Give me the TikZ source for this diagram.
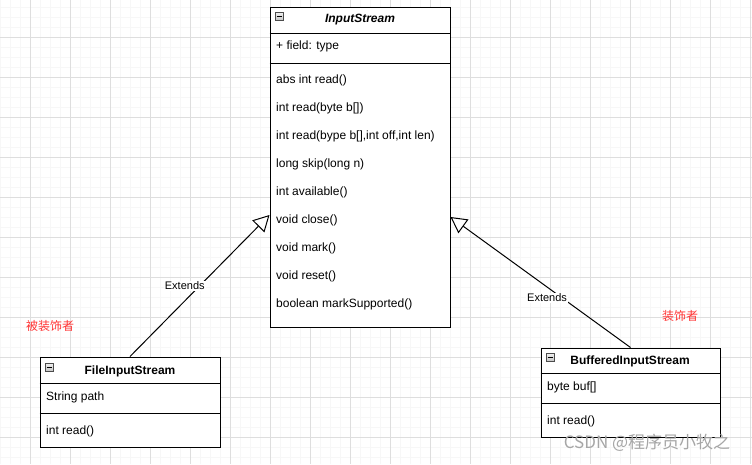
\documentclass[tikz,border=0pt]{standalone}
\usepackage{fontspec}
\setmainfont{Liberation Sans}
\newfontfamily\cjk{Noto Sans CJK SC}
\usetikzlibrary{arrows.meta}
\definecolor{redtxt}{HTML}{FF3333}
\definecolor{gridminor}{HTML}{F7F7F7}
\definecolor{gridmajor}{HTML}{DEDEDE}

\begin{document}
\begin{tikzpicture}[x=1pt, y=-1pt,
  cls/.style={draw, line width=1pt, inner sep=0pt},
  ttl/.style={inner sep=0pt, font=\fontsize{12}{14}\selectfont\bfseries},
  item/.style={anchor=west, inner sep=0pt, font=\fontsize{12}{14}\selectfont},
  minusbox/.style={draw=gray!60!black, top color=gray!10, bottom color=gray!45,
    minimum size=8pt, inner sep=0pt,
    path picture={\draw[black, line width=1pt] ([xshift=-2.5pt]path picture bounding box.center)
      -- ([xshift=2.5pt]path picture bounding box.center);}},
  ext/.style={line width=1pt, -{Triangle[length=16pt, width=17pt, fill=white, line width=1pt]}},
  lbl/.style={fill=white, inner sep=1pt, font=\fontsize{11}{13}\selectfont},
  note/.style={inner sep=0pt, text=redtxt, font=\cjk\fontsize{12}{14}\selectfont}]
\useasboundingbox (0,0) rectangle (752,464);
\fill[white] (0,0) rectangle (752,464);
% grid
\foreach \x in {0,10,...,750} \draw[gridminor, line width=0.8pt] (\x,0)--(\x,464);
\foreach \y in {7,17,...,457} \draw[gridminor, line width=0.8pt] (0,\y)--(752,\y);
\foreach \x in {30,70,...,750} \draw[gridmajor] (\x,0)--(\x,464);
\foreach \y in {37,77,...,457} \draw[gridmajor] (0,\y)--(752,\y);

% InputStream
\node[cls, fill=white, minimum width=180pt, minimum height=320pt] (input) at (360,167) {};
\node[ttl, font=\fontsize{12}{14}\selectfont\bfseries\itshape] (inputT) at (360,20) {InputStream};
\node[minusbox] (inputM) at (279,16) {};
\draw[line width=1pt] (input.west |- 0,33) -- (input.east |- 0,33);
\draw[line width=1pt] (input.west |- 0,63) -- (input.east |- 0,63);
\node[item] (inputF) at (276,46) {+ field: type};
\foreach \t [count=\i from 0] in {abs int read(), int read(byte b[]), {int read(bype b[],int off,int len)},
  long skip(long n), int available(), void close(), void mark(), void reset(), boolean markSupported()}
  \node[item] (inputM\i) at (276,80+28*\i) {\t};

% FileInputStream
\node[cls, fill=white, minimum width=180pt, minimum height=90pt] (file) at (130,402) {};
\node[ttl] (fileT) at (130,371) {FileInputStream};
\node[minusbox] (fileM) at (49,367) {};
\draw[line width=1pt] (file.west |- 0,383) -- (file.east |- 0,383);
\draw[line width=1pt] (file.west |- 0,413) -- (file.east |- 0,413);
\node[item] (fileF) at (46,397) {String path};
\node[item] (fileR) at (46,431) {int read()};

% BufferedInputStream
\node[cls, fill=white, minimum width=179pt, minimum height=89pt] (buf) at (630.5,392.5) {};
\node[ttl] (bufT) at (630,361) {BufferedInputStream};
\node[minusbox] (bufM) at (550,357) {};
\draw[line width=1pt] (buf.west |- 0,373) -- (buf.east |- 0,373);
\draw[line width=1pt] (buf.west |- 0,403) -- (buf.east |- 0,403);
\node[item] (bufF) at (547,387) {byte buf[]};
\node[item] (bufR) at (547,421) {int read()};

% inheritance
\coordinate (inL) at (269.5,215);
\coordinate (inR) at (450.5,217);
\draw[ext] (file.north) -- node[lbl, pos=0.5, xshift=-15pt] (extL) {Extends} (inL);
\draw[ext] (buf.north) -- node[lbl, pos=0.38, xshift=-15pt] (extR) {Extends} (inR);

\node[note] (decorated) at (50,326) {被装饰者};
\node[note] (decorator) at (680,316) {装饰者};
\node[inner sep=0pt, text=gray!70, font=\cjk\fontsize{17}{19}\selectfont] (mark) at (647,443) {CSDN @程序员小牧之};
\end{tikzpicture}
\end{document}
